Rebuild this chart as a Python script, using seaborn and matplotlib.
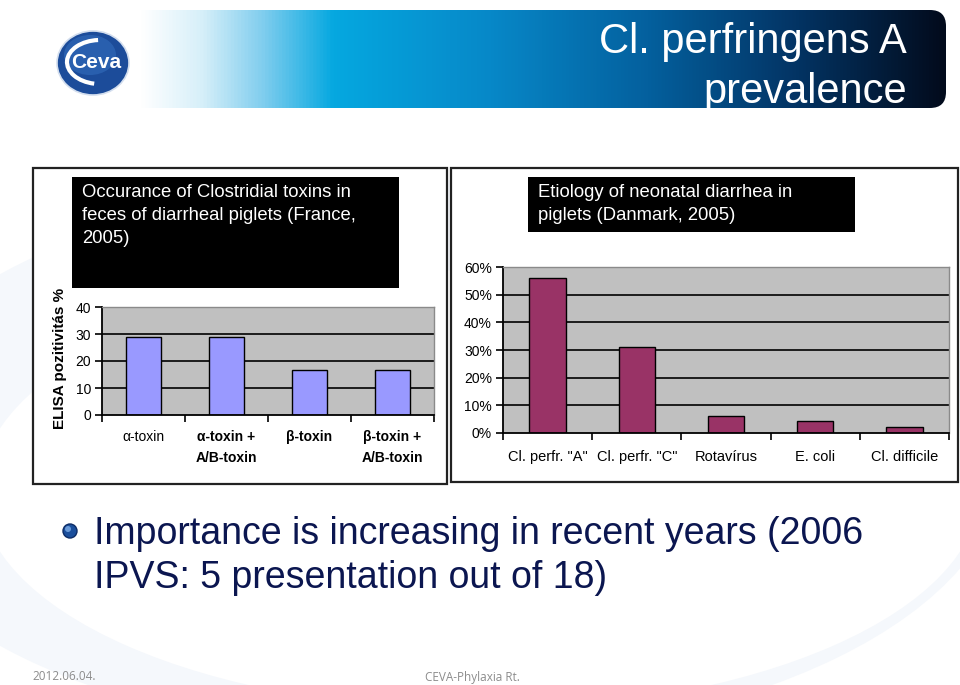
import numpy as np
import pandas as pd
import matplotlib
matplotlib.use("Agg")
import matplotlib.pyplot as plt
import seaborn as sns
from matplotlib import font_manager
from matplotlib.colors import LinearSegmentedColormap
from matplotlib.patches import Rectangle, FancyBboxPatch, Circle, Ellipse, Arc

# ---------------- data ----------------
left_title = "Occurance of Clostridial toxins in\nfeces of diarrheal piglets (France,\n2005)"
left_categories = ["α-toxin", "α-toxin +\nA/B-toxin", "β-toxin", "β-toxin +\nA/B-toxin"]
left_values = [29, 29, 16.5, 16.5]
left_yticks = [0, 10, 20, 30, 40]
left_ylabel = "ELISA pozitivitás %"

right_title = "Etiology of neonatal diarrhea in\npiglets (Danmark, 2005)"
right_categories = ['Cl. perfr. "A"', 'Cl. perfr. "C"', 'Rotavírus', 'E. coli', 'Cl. difficile']
right_values = [56, 31, 6.1, 4.3, 2.2]
right_yticks = [0, 10, 20, 30, 40, 50, 60]

slide_title = "Cl. perfringens A\nprevalence"
bullet_text = "Importance is increasing in recent years (2006\nIPVS: 5 presentation out of 18)"
footer_date = "2012.06.04."
footer_org = "CEVA-Phylaxia Rt."

# ---------------- fonts ----------------
def has_font(name):
    try:
        font_manager.findfont(font_manager.FontProperties(family=name), fallback_to_default=False)
        return True
    except Exception:
        return False

sns.set_theme(style="white")
NARROW = "Liberation Sans Narrow" if has_font("Liberation Sans Narrow") else "Liberation Sans"
ARIAL = "Liberation Sans"
plt.rcParams["font.family"] = [ARIAL, "DejaVu Sans"]

W, H = 960, 685
fig = plt.figure(figsize=(W / 100, H / 100), dpi=100)
fig.patch.set_facecolor("white")

def fx(x):
    return x / W

def fy(y):
    return 1 - y / H

# ---------------- background / decoration axes (pixel coords) ----------------
bg = fig.add_axes([0, 0, 1, 1], zorder=-5)
bg.set_xlim(0, W)
bg.set_ylim(H, 0)
bg.axis("off")

# faint swoosh
bg.add_patch(Ellipse((430, 460), 1150, 560, facecolor="#f5f8fc", edgecolor="none", zorder=0))
bg.add_patch(Ellipse((480, 490), 1000, 440, facecolor="white", edgecolor="none", zorder=0.1))

# banner gradient
cmap = LinearSegmentedColormap.from_list(
    "banner",
    [(0.0, "#ffffff"), (0.08, "#ffffff"), (0.15, "#d6eff9"), (0.22, "#7fcdee"),
     (0.30, "#05a8e0"), (0.48, "#0788c8"), (0.66, "#04609e"), (0.83, "#033464"),
     (1.0, "#020b1c")])
grad = np.linspace(0, 1, 512).reshape(1, -1)
im = bg.imshow(grad, extent=[70, 946, 108, 10], aspect="auto", cmap=cmap, zorder=1)
clip = FancyBboxPatch((70, 10), 876, 98, boxstyle="round,pad=0,rounding_size=16",
                      transform=bg.transData, facecolor="none", edgecolor="none")
bg.add_patch(clip)
im.set_clip_path(clip)
bg.text(907, 42, "Cl. perfringens A", ha="right", va="center", color="white",
        fontsize=30, family=[NARROW, "DejaVu Sans"], zorder=3)
bg.text(907, 92, "prevalence", ha="right", va="center", color="white",
        fontsize=30, family=[NARROW, "DejaVu Sans"], zorder=3)

# logo
bg.add_patch(Ellipse((93, 63), 72, 64, facecolor="#1c4c9a", edgecolor="#d3deee", lw=1.2, zorder=3))
bg.add_patch(Ellipse((90, 55), 52, 40, facecolor="#3470c0", edgecolor="none", alpha=0.55, zorder=3))
bg.add_patch(Arc((100, 62), 66, 44, theta1=105, theta2=265, color="white", lw=3, zorder=4))
bg.text(96, 62, "Ceva", ha="center", va="center", color="white", fontsize=15,
        fontweight="bold", zorder=5)

# panel borders
bg.add_patch(Rectangle((33, 168), 414, 316, facecolor="white", edgecolor="#222222", lw=1.6, zorder=2))
bg.add_patch(Rectangle((451, 168), 507, 314, facecolor="white", edgecolor="#222222", lw=1.6, zorder=2))

# title boxes
bg.add_patch(Rectangle((72, 177), 327, 111, facecolor="black", edgecolor="none", zorder=3))
bg.text(82, 184, left_title, ha="left", va="top", color="white", fontsize=13.3,
        linespacing=1.45, zorder=4)
bg.add_patch(Rectangle((528, 177), 327, 55, facecolor="black", edgecolor="none", zorder=3))
bg.text(538, 184, right_title, ha="left", va="top", color="white", fontsize=13.3,
        linespacing=1.45, zorder=4)

# bullet
bg.add_patch(Circle((70, 531), 7, facecolor="#1b4f9c", edgecolor="#0d2c66", lw=1, zorder=3))
bg.add_patch(Circle((68, 529), 3, facecolor="#6a9ad8", edgecolor="none", zorder=3))
bg.text(94, 556, bullet_text, ha="left", va="center", color="#0b1650", fontsize=27,
        family=[NARROW, "DejaVu Sans"], linespacing=1.28, zorder=3)

# footer
bg.text(32, 677, footer_date, ha="left", va="center", color="#8c8c8c", fontsize=8.5,
        family=["Open Sans", "DejaVu Sans"], zorder=3)
bg.text(425, 677, footer_org, ha="left", va="center", color="#8c8c8c", fontsize=8.5,
        family=["Open Sans", "DejaVu Sans"], zorder=3)

# ---------------- chart helper ----------------
def style_axes(ax, n, yticks, fmt):
    ax.set_facecolor("#c0c0c0")
    ax.set_xlim(-0.5, n - 0.5)
    ax.set_ylim(yticks[0], yticks[-1])
    ax.set_yticks(yticks)
    ax.set_yticklabels([fmt(v) for v in yticks])
    for v in yticks[1:-1]:
        ax.axhline(v, color="black", lw=1.2, zorder=0.5)
    ax.set_xticks(np.arange(-0.5, n, 1.0), minor=True)
    ax.tick_params(axis="x", which="major", length=0, pad=8, labelsize=10.5, colors="black")
    ax.tick_params(axis="x", which="minor", length=5, width=1.2, direction="out", color="black", bottom=True)
    ax.tick_params(axis="y", which="major", length=5, width=1.2, direction="out", color="black",
                   left=True, labelsize=10, pad=3, labelcolor="black")
    for s in ["left", "bottom"]:
        ax.spines[s].set_color("black")
        ax.spines[s].set_linewidth(1.3)
    for s in ["top", "right"]:
        ax.spines[s].set_color("#8a8a8a")
        ax.spines[s].set_linewidth(1.0)
    ax.set_xlabel("")
    ax.set_ylabel("")

# ---------------- left chart ----------------
axL = fig.add_axes([fx(102), fy(415), fx(434 - 102), (415 - 307) / H], zorder=2)
dfL = pd.DataFrame({"cat": left_categories, "val": left_values})
sns.barplot(data=dfL, x="cat", y="val", ax=axL, color="#9999ff", saturation=1,
            edgecolor="black", linewidth=1.0, width=0.41, zorder=2)
style_axes(axL, len(left_categories), left_yticks, lambda v: f"{v:g}")
axL.tick_params(axis="x", which="major", pad=11)
for i, lab in enumerate(axL.get_xticklabels()):
    if i == 0:
        lab.set_fontweight("normal")
        lab.set_fontsize(10)
    else:
        lab.set_fontweight("bold")
        lab.set_family([NARROW, "DejaVu Sans"])
        lab.set_fontsize(10)
    lab.set_va("top")
    lab.set_linespacing(1.6)
fig.text(fx(60), fy(358), left_ylabel, rotation=90, ha="center", va="center",
         fontsize=11, fontweight="bold", color="black")

# ---------------- right chart ----------------
axR = fig.add_axes([fx(503), fy(433), fx(949 - 503), (433 - 267) / H], zorder=2)
dfR = pd.DataFrame({"cat": right_categories, "val": right_values})
sns.barplot(data=dfR, x="cat", y="val", ax=axR, color="#993366", saturation=1,
            edgecolor="black", linewidth=1.0, width=0.41, zorder=2)
style_axes(axR, len(right_categories), right_yticks, lambda v: f"{v:g}%")
axR.tick_params(axis="x", which="major", pad=12)

fig.savefig("out.png", dpi=100, facecolor="white")
